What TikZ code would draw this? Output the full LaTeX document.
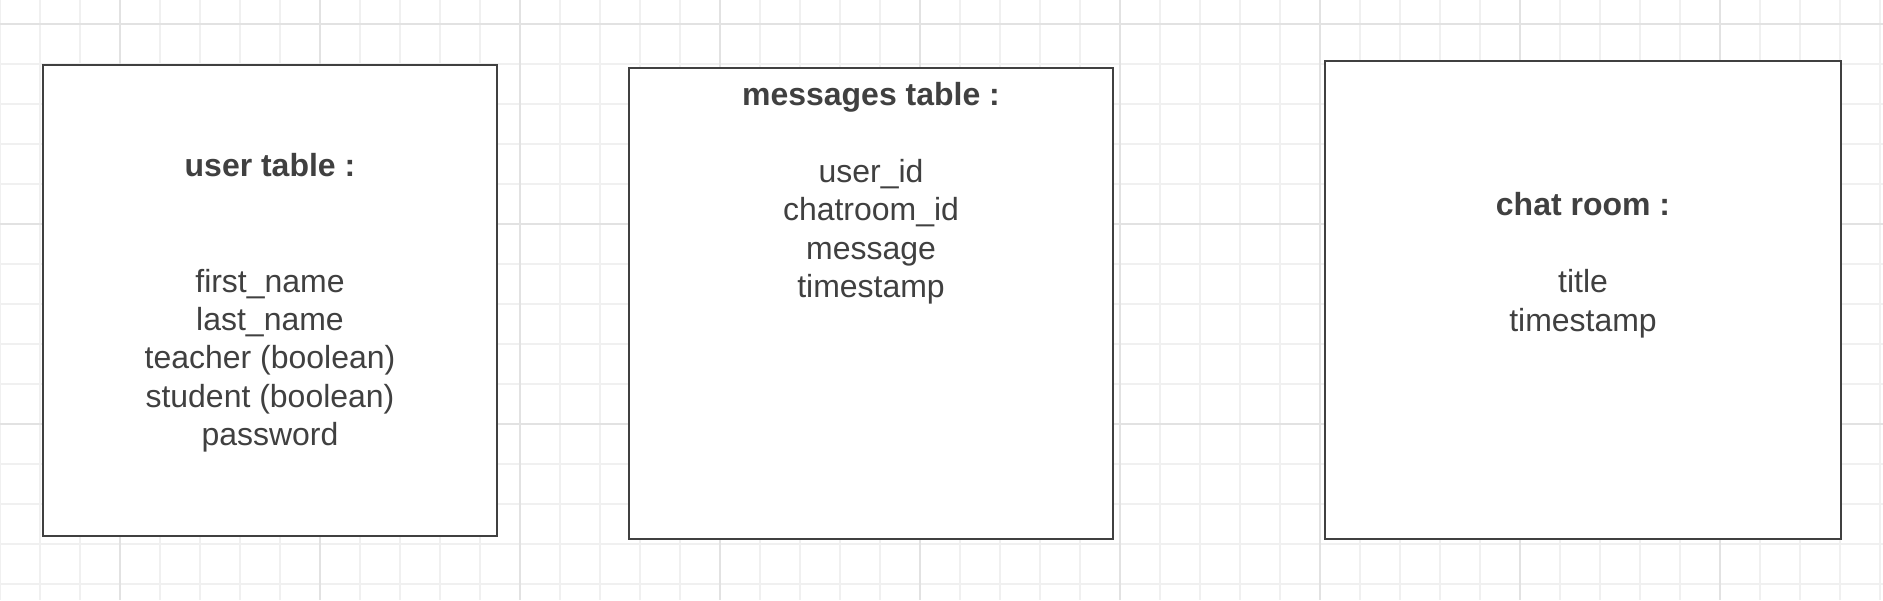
\documentclass[tikz,border=0pt]{standalone}
\usepackage{fontspec}
\setmainfont{Liberation Sans}
\usepackage{tikz}
\definecolor{gridminor}{HTML}{F0F0F0}
\definecolor{gridmajor}{HTML}{E2E2E2}
\definecolor{inkgray}{HTML}{404040}

\begin{document}
\begin{tikzpicture}[x=0.02cm,y=-0.02cm,
    minorline/.style={gridminor,line width=0.6pt},
    majorline/.style={gridmajor,line width=0.8pt},
    tablebox/.style={draw=inkgray,fill=white,line width=1.1pt,inner sep=0pt},
    fieldtext/.style={text=inkgray,align=center,anchor=north,inner sep=0pt,
      font=\fontsize{18.2pt}{21.85pt}\selectfont}]
    \fill[white] (0,0) rectangle (1883,600);
    \useasboundingbox (0,0) rectangle (1883,600);
    \foreach \gx in {0,40,...,1880} \draw[minorline] (\gx,0) -- (\gx,600);
    \foreach \gy in {24,64,...,584} \draw[minorline] (0,\gy) -- (1883,\gy);
    \foreach \gx in {120,320,...,1720} \draw[majorline] (\gx,0) -- (\gx,600);
    \foreach \gy in {24,224,424} \draw[majorline] (0,\gy) -- (1883,\gy);
    \node[tablebox,minimum width=9.08cm,minimum height=9.42cm] (usr) at (270,300.5) {};
    \node[tablebox,minimum width=9.68cm,minimum height=9.42cm] (msg) at (871,303.5) {};
    \node[tablebox,minimum width=10.32cm,minimum height=9.56cm] (chat) at (1583,300) {};
    \node[fieldtext] (usrtext) at (270,153.3) {\textbf{user table :}\\[43.7pt]
      first\_name\\ last\_name\\ teacher (boolean)\\ student (boolean)\\ password};
    \node[fieldtext] (msgtext) at (871,82) {\textbf{messages table :}\\[21.85pt]
      user\_id\\ chatroom\_id\\ message\\ timestamp};
    \node[fieldtext] (chattext) at (1583,192.3) {\textbf{chat room :}\\[21.85pt]
      title\\ timestamp};
  \end{tikzpicture}
\end{document}
